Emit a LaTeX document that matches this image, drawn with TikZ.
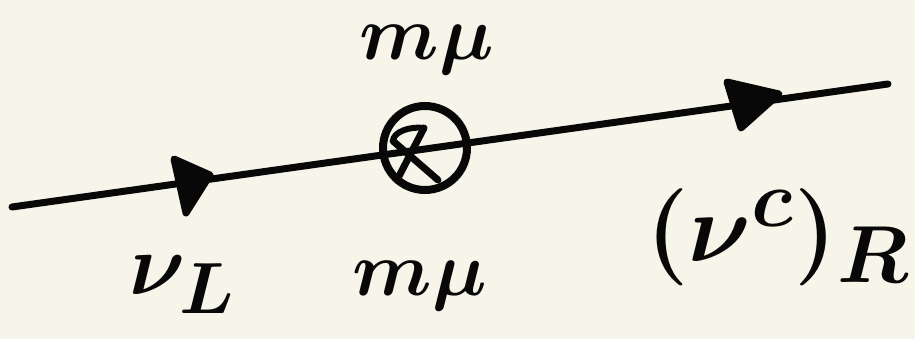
\documentclass[tikz,border=0pt]{standalone}
\usepackage{graphicx}
\usepackage{amsmath}
\definecolor{paper}{RGB}{247,245,234}
\definecolor{ink}{RGB}{8,8,8}
\tikzset{
  prop/.style={draw=ink,line width=7pt,line cap=round},
  arrowhead/.style={draw=ink,fill=ink,line width=7pt,line join=round},
  insertion/.style={circle,draw=ink,line width=8pt,minimum size=84pt,inner sep=0pt},
  lab/.style={text=ink,inner sep=0pt},
}
\newcommand{\bigtext}[2]{\scalebox{#1}{\Huge\boldmath$#2$}}
\begin{document}
\begin{tikzpicture}[x=1pt,y=-1pt]
\fill[paper] (0,0) rectangle (915,339);
\useasboundingbox (0,0) rectangle (915,339);
% propagator line
\coordinate (L) at (12,207);
\coordinate (R) at (888,84);
\draw[prop] (L) -- (R);
% arrowheads
\coordinate (a1) at (174,159);
\coordinate (b1) at (186,213);
\coordinate (c1) at (210,175);
\draw[arrowhead] (a1) -- (b1) -- (c1) -- cycle;
\coordinate (a2) at (727,82);
\coordinate (b2) at (741,128);
\coordinate (c2) at (779,94);
\draw[arrowhead] (a2) -- (b2) -- (c2) -- cycle;
% mass insertion
\node[insertion] (ins) at (425,148) {};
\coordinate (x1) at (424,128);
\coordinate (x2) at (397,180);
\coordinate (x3) at (393,141);
\coordinate (x4) at (438,180);
\draw[prop] (x1) -- (x2);
\draw[prop] (x3) -- (x4);
\draw[prop,line width=6pt] (x3) .. controls (393,132) and (410,126) .. (x1);
% labels
\node[lab] (mtop) at (427,50) {\bigtext{3.1}{m\mu}};
\node[lab] (mbot) at (420,286) {\bigtext{3.1}{m\mu}};
\node[lab] (nuL) at (183,285) {\bigtext{3.5}{\nu_L}};
\node[lab] (nuR) at (778,237) {\bigtext{3.9}{(\nu^c)_R}};
\end{tikzpicture}
\end{document}
